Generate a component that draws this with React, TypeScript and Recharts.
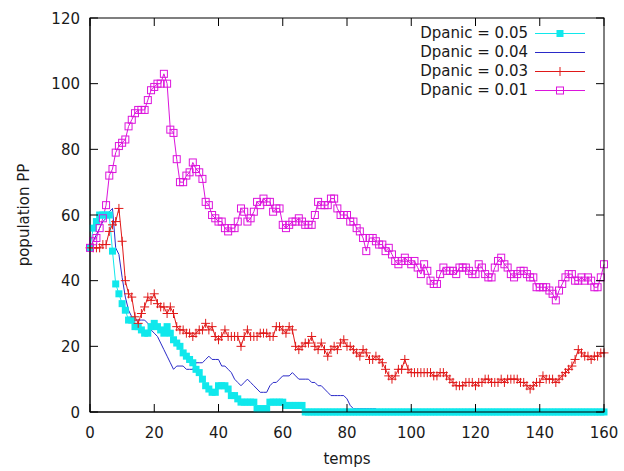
import { LineChart, Line, XAxis, YAxis } from 'recharts'

// time steps 0..160
const times = Array.from({ length: 161 }, (_, i) => i)
const xTicks = [0, 20, 40, 60, 80, 100, 120, 140, 160]
const yTicks = [0, 20, 40, 60, 80, 100, 120]

const dpanic005 = [
  50, 56, 58, 60, 60, 60, 60, 49, 39, 36,
  33, 31, 28, 28, 26, 26, 25, 24, 24, 26,
  27, 26, 25, 24, 26, 24, 22, 21, 20, 18,
  17, 16, 15, 13, 12, 10, 8, 7, 6, 6,
  8, 8, 8, 7, 5, 5, 4, 3, 3, 3,
  3, 3, 1, 1, 1, 1, 3, 3, 3, 3,
  3, 2, 2, 2, 2, 2, 2, 0, 0, 0,
  0, 0, 0, 0, 0, 0, 0, 0, 0, 0,
  0, 0, 0, 0, 0, 0, 0, 0, 0, 0,
  0, 0, 0, 0, 0, 0, 0, 0, 0, 0,
  0, 0, 0, 0, 0, 0, 0, 0, 0, 0,
  0, 0, 0, 0, 0, 0, 0, 0, 0, 0,
  0, 0, 0, 0, 0, 0, 0, 0, 0, 0,
  0, 0, 0, 0, 0, 0, 0, 0, 0, 0,
  0, 0, 0, 0, 0, 0, 0, 0, 0, 0,
  0, 0, 0, 0, 0, 0, 0, 0, 0, 0,
  0,
]

const dpanic004 = [
  50, 52, 54, 56, 58, 59, 61, 62, 50, 48,
  41, 35, 31, 29, 28, 28, 28, 28, 27, 25,
  24, 23, 21, 19, 17, 15, 13, 14, 14, 14,
  13, 13, 13, 15, 15, 15, 16, 17, 16, 16,
  16, 14, 14, 13, 12, 10, 9, 8, 9, 10,
  9, 8, 7, 6, 6, 6, 8, 9, 9, 10,
  11, 11, 11, 12, 11, 10, 10, 10, 10, 9,
  9, 8, 8, 7, 6, 5, 5, 5, 5, 5,
  4, 2, 1, 1, 1, 1, 1, 1, 1, 1,
  0, 0, 0, 0, 0, 0, 0, 0, 0, 0,
  0, 0, 0, 0, 0, 0, 0, 0, 0, 0,
  0, 0, 0, 0, 0, 0, 0, 0, 0, 0,
  0, 0, 0, 0, 0, 0, 0, 0, 0, 0,
  0, 0, 0, 0, 0, 0, 0, 0, 0, 0,
  0, 0, 0, 0, 0, 0, 0, 0, 0, 0,
  0, 0, 0, 0, 0, 0, 0, 0, 0, 0,
  0,
]

const dpanic003 = [
  50, 50, 50, 50, 51, 51, 55, 57, 58, 62,
  52, 40, 36, 35, 29, 27, 30, 32, 35, 34,
  36, 33, 32, 32, 30, 32, 30, 26, 25, 25,
  24, 24, 23, 24, 25, 25, 27, 25, 26, 23,
  22, 23, 25, 23, 23, 23, 23, 20, 23, 25,
  23, 23, 23, 24, 24, 24, 23, 23, 26, 26,
  25, 24, 26, 25, 20, 19, 20, 21, 21, 23,
  20, 19, 21, 19, 17, 19, 20, 19, 21, 22,
  20, 20, 19, 18, 17, 19, 18, 16, 16, 17,
  16, 15, 13, 11, 10, 11, 13, 13, 16, 13,
  12, 12, 12, 12, 12, 12, 12, 11, 11, 12,
  12, 11, 10, 9, 8, 8, 8, 9, 9, 9,
  8, 9, 9, 10, 10, 9, 9, 9, 10, 9,
  10, 10, 10, 10, 9, 9, 8, 7, 8, 9,
  9, 11, 10, 10, 10, 9, 10, 11, 12, 13,
  14, 16, 19, 18, 17, 17, 16, 17, 17, 18,
  18,
]

const dpanic001 = [
  50, 52, 53, 56, 59, 63, 72, 74, 79, 81,
  82, 83, 87, 89, 91, 92, 92, 92, 95, 98,
  99, 100, 100, 103, 100, 86, 85, 77, 70, 70,
  72, 73, 76, 74, 73, 71, 64, 63, 60, 59,
  58, 58, 56, 55, 56, 56, 58, 62, 61, 58,
  59, 61, 64, 63, 65, 64, 64, 61, 62, 62,
  57, 56, 57, 58, 58, 59, 58, 57, 57, 57,
  60, 64, 63, 63, 63, 65, 65, 62, 60, 60,
  60, 58, 58, 56, 55, 53, 49, 53, 53, 52,
  51, 51, 49, 50, 48, 46, 45, 46, 47, 46,
  45, 46, 44, 42, 45, 43, 40, 39, 39, 42,
  44, 43, 43, 43, 42, 44, 44, 44, 43, 42,
  42, 45, 44, 42, 41, 41, 44, 46, 47, 45,
  44, 42, 41, 42, 43, 43, 42, 41, 41, 38,
  38, 38, 38, 37, 36, 34, 37, 39, 41, 42,
  42, 40, 40, 41, 40, 41, 40, 38, 38, 41,
  45,
]

const data = times.map((t, i) => ({
  t,
  d005: dpanic005[i],
  d004: dpanic004[i],
  d003: dpanic003[i],
  d001: dpanic001[i],
}))

const CYAN = '#10e8ec'
const BLUE = '#2a2ac8'
const RED = '#e01818'
const MAGENTA = '#dc14dc'
const FONT = '"DejaVu Sans", sans-serif'
const TEXT = '#1a1a1a'

// chart geometry (gnuplot-like box)
const W = 624
const H = 471
const M = { top: 18, right: 20, bottom: 0, left: 0 }
const Y_AXIS_W = 90
const X_AXIS_H = 59
const PLOT_X = M.left + Y_AXIS_W
const PLOT_Y = M.top
const PLOT_W = W - M.left - M.right - Y_AXIS_W
const PLOT_H = H - M.top - M.bottom - X_AXIS_H
const TICK = 8
const X_MAX = 160
const Y_MAX = 120

const series = [
  { key: 'd005', name: 'Dpanic = 0.05', color: CYAN, marker: 'filled' },
  { key: 'd004', name: 'Dpanic = 0.04', color: BLUE, marker: 'none' },
  { key: 'd003', name: 'Dpanic = 0.03', color: RED, marker: 'plus' },
  { key: 'd001', name: 'Dpanic = 0.01', color: MAGENTA, marker: 'open' },
]

function marker(kind: string, color: string, cx: number, cy: number, key?: string) {
  if (kind === 'filled')
    return <rect key={key} x={cx - 3.5} y={cy - 3.5} width={7} height={7} fill={color} />
  if (kind === 'open')
    return <rect key={key} x={cx - 3.5} y={cy - 3.5} width={7} height={7} fill="none" stroke={color} strokeWidth={1} />
  if (kind === 'plus')
    return (
      <path key={key} d={`M${cx - 4.5},${cy}H${cx + 4.5}M${cx},${cy - 4.5}V${cy + 4.5}`} stroke={color} strokeWidth={1} fill="none" />
    )
  return <g key={key} />
}

const dotFor = (kind: string, color: string) => (props: any) => {
  const { cx, cy, index } = props
  if (cx == null || cy == null) return <g key={`e-${index}`} />
  return marker(kind, color, cx, cy, `m-${index}`)
}

const BottomTick = ({ x, y, payload }: any) => (
  <text x={x} y={y + 26} textAnchor="middle" fontSize={15} fontFamily={FONT} fill={TEXT}>
    {payload.value}
  </text>
)

const LeftTick = ({ x, y, payload }: any) => (
  <text x={x - 10} y={y + 5.5} textAnchor="end" fontSize={15} fontFamily={FONT} fill={TEXT}>
    {payload.value}
  </text>
)

// box border with inward ticks on all four sides (gnuplot "mirror" style)
const Frame = () => {
  const tx = (v: number) => PLOT_X + (v / X_MAX) * PLOT_W
  const ty = (v: number) => PLOT_Y + PLOT_H - (v / Y_MAX) * PLOT_H
  const bottom = PLOT_Y + PLOT_H
  const right = PLOT_X + PLOT_W
  return (
    <svg width={W} height={H} style={{ position: 'absolute', left: 0, top: 0, pointerEvents: 'none' }}>
      <rect x={PLOT_X} y={PLOT_Y} width={PLOT_W} height={PLOT_H} fill="none" stroke="#000" strokeWidth={1} />
      {xTicks.map((v) => (
        <g key={`x${v}`}>
          <line x1={tx(v)} y1={bottom} x2={tx(v)} y2={bottom - TICK} stroke="#000" strokeWidth={1} />
          <line x1={tx(v)} y1={PLOT_Y} x2={tx(v)} y2={PLOT_Y + TICK} stroke="#000" strokeWidth={1} />
        </g>
      ))}
      {yTicks.map((v) => (
        <g key={`y${v}`}>
          <line x1={PLOT_X} y1={ty(v)} x2={PLOT_X + TICK} y2={ty(v)} stroke="#000" strokeWidth={1} />
          <line x1={right} y1={ty(v)} x2={right - TICK} y2={ty(v)} stroke="#000" strokeWidth={1} />
        </g>
      ))}
    </svg>
  )
}

const ChartLegend = () => (
  <div style={{ position: 'absolute', top: 24, left: 400, width: 200, fontFamily: FONT, fontSize: 15, color: TEXT }}>
    {series.map((s) => (
      <div key={s.key} style={{ display: 'flex', alignItems: 'center', height: 19 }}>
        <div style={{ width: 128, textAlign: 'right', lineHeight: '19px' }}>{s.name}</div>
        <svg width={60} height={19} style={{ marginLeft: 7 }}>
          <line x1={0} y1={9.5} x2={50} y2={9.5} stroke={s.color} strokeWidth={1} />
          {marker(s.marker, s.color, 25, 9.5)}
        </svg>
      </div>
    ))}
  </div>
)

export default function App() {
  return (
    <div style={{ position: 'absolute', left: 0, top: 0, width: W, height: H, background: '#fff', fontFamily: FONT }}>
      <LineChart width={W} height={H} data={data} margin={M}>
        <XAxis
          dataKey="t"
          type="number"
          domain={[0, X_MAX]}
          ticks={xTicks}
          interval={0}
          height={X_AXIS_H}
          tickSize={0}
          tickMargin={0}
          tickLine={false}
          tick={BottomTick}
          axisLine={{ stroke: '#000' }}
          label={{
            content: ({ viewBox }: any) => (
              <text x={viewBox.x + viewBox.width / 2} y={viewBox.y + 52} textAnchor="middle" fontSize={15} fontFamily={FONT} fill={TEXT}>
                temps
              </text>
            ),
          }}
        />
        <YAxis
          type="number"
          domain={[0, Y_MAX]}
          ticks={yTicks}
          interval={0}
          width={Y_AXIS_W}
          tickSize={0}
          tickMargin={0}
          tickLine={false}
          tick={LeftTick}
          axisLine={{ stroke: '#000' }}
          label={{
            content: ({ viewBox }: any) => {
              const cx = viewBox.x + 29
              const cy = viewBox.y + viewBox.height / 2
              return (
                <text x={cx} y={cy} transform={`rotate(-90, ${cx}, ${cy})`} textAnchor="middle" fontSize={15} fontFamily={FONT} fill={TEXT}>
                  population PP
                </text>
              )
            },
          }}
        />
        {series.map((s) => (
          <Line
            key={s.key}
            dataKey={s.key}
            name={s.name}
            type="linear"
            stroke={s.color}
            strokeWidth={1}
            dot={s.marker === 'none' ? false : dotFor(s.marker, s.color)}
            activeDot={false}
            isAnimationActive={false}
          />
        ))}
      </LineChart>
      <Frame />
      <ChartLegend />
    </div>
  )
}
